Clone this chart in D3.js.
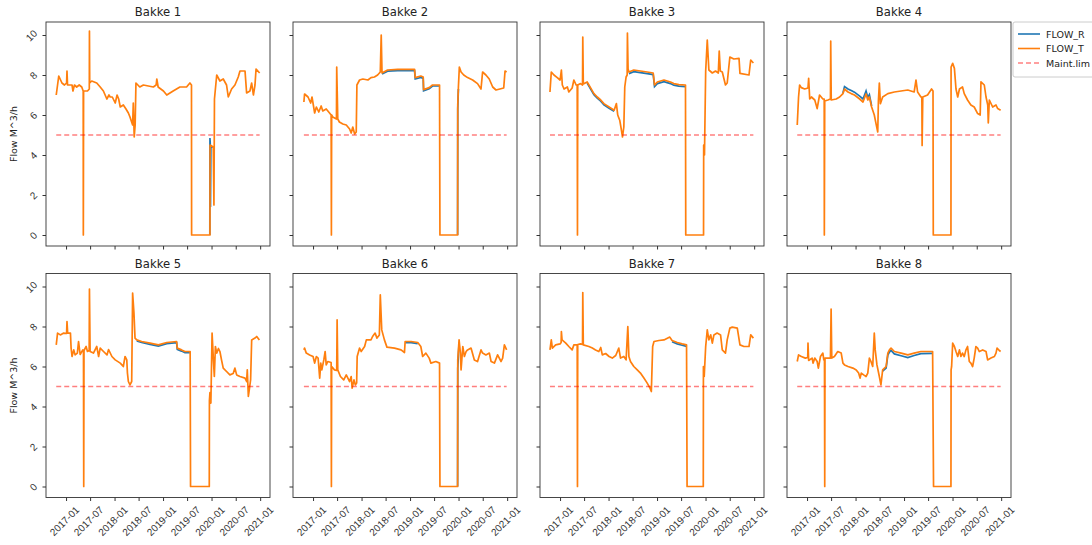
<!DOCTYPE html>
<html>
<head>
<meta charset="utf-8">
<script src="https://cdn.jsdelivr.net/npm/d3@7"></script>
<style>
    body { margin: 0; background: #fff; }
    svg { font-family: "DejaVu Sans", sans-serif; }
</style>
</head>
<body>
<svg></svg>
<script>
const BAKKE = ['Bakke 1', 'Bakke 2', 'Bakke 3', 'Bakke 4', 'Bakke 5', 'Bakke 6', 'Bakke 7', 'Bakke 8'];
const SERIES = ['FLOW_R', 'FLOW_T', 'Maint.lim'];
const X_TICKS = ['2017-01', '2017-07', '2018-01', '2018-07', '2019-01', '2019-07', '2020-01', '2020-07', '2021-01'];
const Y_TICKS = [0, 2, 4, 6, 8, 10];
const MAINT_LIM = 5;

// FLOW_T readings per bakke, [date, m^3/h]
const flowT1 = [["2016-10-19",7.0],["2016-11-07",7.95],["2016-12-01",7.6],["2016-12-20",7.5],["2017-01-05",7.6],["2017-01-08",8.2],["2017-01-12",7.5],["2017-02-15",7.5],["2017-02-22",7.2],["2017-03-05",7.5],["2017-03-22",7.4],["2017-04-10",7.5],["2017-04-29",7.4],["2017-05-10",7.2],["2017-05-11",0],["2017-05-13",7.2],["2017-06-11",7.2],["2017-06-25",7.3],["2017-06-26",10.2],["2017-06-28",7.6],["2017-07-13",7.7],["2017-08-20",7.6],["2017-09-15",7.4],["2017-10-09",7.2],["2017-11-04",6.8],["2017-11-20",7.0],["2017-11-29",6.9],["2017-12-15",6.9],["2018-01-06",6.6],["2018-01-20",7.0],["2018-02-01",6.8],["2018-02-13",6.4],["2018-03-08",6.5],["2018-03-28",6.3],["2018-04-15",6.1],["2018-04-27",5.9],["2018-05-17",5.5],["2018-05-22",6.6],["2018-05-29",4.9],["2018-06-05",5.5],["2018-06-11",7.6],["2018-07-10",7.4],["2018-08-06",7.5],["2018-10-20",7.4],["2018-11-10",7.5],["2018-11-15",7.8],["2018-11-25",7.4],["2019-01-04",7.2],["2019-01-29",7.0],["2019-03-18",7.2],["2019-05-08",7.4],["2019-06-27",7.4],["2019-07-22",7.6],["2019-08-03",7.5],["2019-08-04",0],["2019-12-20",0],["2019-12-21",4.5],["2020-01-14",4.4],["2020-01-19",1.5],["2020-01-23",6.8],["2020-02-09",8.0],["2020-03-04",7.7],["2020-03-29",7.8],["2020-04-23",7.5],["2020-05-06",6.9],["2020-05-31",7.3],["2020-06-25",7.5],["2020-07-20",7.9],["2020-08-02",8.2],["2020-09-09",8.2],["2020-09-21",7.1],["2020-10-16",7.2],["2020-10-29",7.6],["2020-11-11",7.0],["2020-11-23",7.5],["2020-12-01",8.3],["2020-12-28",8.1]];
const flowT2 = [["2016-10-24",6.65],["2016-10-29",7.05],["2016-11-24",6.9],["2016-12-14",6.6],["2016-12-24",6.9],["2017-01-08",6.3],["2017-01-13",6.1],["2017-01-26",6.4],["2017-02-13",6.15],["2017-03-03",6.45],["2017-03-15",6.2],["2017-04-10",6.3],["2017-05-05",6.1],["2017-05-17",6.0],["2017-05-19",0],["2017-05-21",6.0],["2017-05-29",5.9],["2017-06-26",5.8],["2017-06-28",8.4],["2017-07-06",5.8],["2017-07-18",5.65],["2017-08-13",5.55],["2017-09-08",5.5],["2017-10-03",5.3],["2017-10-15",5.1],["2017-10-27",5.4],["2017-11-10",5.05],["2017-11-22",5.15],["2017-11-27",7.5],["2017-12-17",7.75],["2018-01-11",7.8],["2018-02-18",7.75],["2018-03-13",7.87],["2018-04-08",7.9],["2018-05-02",8.0],["2018-05-22",8.15],["2018-05-29",10.0],["2018-06-04",8.1],["2018-07-16",8.25],["2018-09-30",8.28],["2019-02-04",8.28],["2019-02-09",7.87],["2019-03-23",7.95],["2019-04-10",7.9],["2019-04-13",7.27],["2019-05-25",7.37],["2019-06-19",7.5],["2019-08-11",7.5],["2019-08-14",0],["2019-12-25",0],["2019-12-26",6.5],["2019-12-31",7.4],["2020-01-07",8.4],["2020-01-20",8.15],["2020-02-09",8.0],["2020-03-09",7.87],["2020-04-16",7.75],["2020-05-23",7.57],["2020-06-18",7.3],["2020-06-30",8.15],["2020-07-25",8.0],["2020-08-19",7.8],["2020-09-14",7.4],["2020-10-09",7.25],["2020-12-06",7.35],["2020-12-16",8.2],["2020-12-28",8.15]];
const flowT3 = [["2016-10-17",7.15],["2016-10-27",8.15],["2016-11-16",8.0],["2016-12-11",7.87],["2017-01-01",7.75],["2017-01-11",8.25],["2017-01-18",7.5],["2017-01-31",7.3],["2017-02-25",7.4],["2017-03-08",7.15],["2017-04-02",7.35],["2017-04-15",7.75],["2017-05-02",7.5],["2017-05-10",7.5],["2017-05-12",0],["2017-05-14",7.5],["2017-06-04",7.57],["2017-06-19",7.5],["2017-06-21",9.9],["2017-06-25",7.55],["2017-07-24",7.65],["2017-08-18",7.37],["2017-09-13",7.07],["2017-10-08",6.9],["2017-11-03",6.75],["2017-11-27",6.57],["2018-01-05",6.4],["2018-02-12",6.24],["2018-03-01",6.57],["2018-03-11",6.0],["2018-03-26",5.74],["2018-04-06",5.32],["2018-04-16",4.9],["2018-04-26",5.4],["2018-05-03",7.4],["2018-05-13",7.9],["2018-05-21",8.0],["2018-05-23",10.1],["2018-05-28",8.3],["2018-06-03",8.15],["2018-07-10",8.25],["2018-08-29",8.2],["2018-10-19",8.15],["2018-12-03",8.1],["2018-12-13",7.5],["2019-01-03",7.65],["2019-02-22",7.75],["2019-04-12",7.65],["2019-05-07",7.57],["2019-06-14",7.52],["2019-08-03",7.5],["2019-08-05",0],["2019-12-17",0],["2019-12-18",4.5],["2019-12-24",4.0],["2020-01-02",8.2],["2020-01-14",9.75],["2020-01-26",8.25],["2020-02-21",8.1],["2020-03-16",8.2],["2020-04-06",8.1],["2020-04-13",9.2],["2020-04-21",8.2],["2020-05-06",8.15],["2020-05-30",7.5],["2020-06-12",7.6],["2020-07-02",8.9],["2020-08-01",8.8],["2020-09-09",8.83],["2020-09-16",8.08],["2020-11-23",8.0],["2020-12-06",8.75],["2020-12-26",8.6]];
const flowT4 = [["2016-10-19",5.5],["2016-10-29",6.9],["2016-11-06",7.5],["2016-11-19",7.37],["2016-12-14",7.3],["2017-01-08",7.35],["2017-01-13",7.83],["2017-01-21",6.8],["2017-02-03",6.9],["2017-02-28",6.75],["2017-03-18",6.32],["2017-04-05",7.0],["2017-04-30",6.8],["2017-05-10",6.8],["2017-05-11",0],["2017-05-14",6.7],["2017-06-07",6.75],["2017-06-26",6.8],["2017-06-28",9.7],["2017-07-02",6.75],["2017-08-08",6.8],["2017-09-03",6.9],["2017-09-28",7.07],["2017-10-10",7.3],["2017-11-05",7.15],["2017-11-29",7.07],["2017-12-24",7.0],["2018-02-01",6.8],["2018-02-26",6.65],["2018-03-21",7.05],["2018-04-03",6.75],["2018-04-15",6.9],["2018-05-02",6.4],["2018-05-22",6.0],["2018-06-04",5.57],["2018-06-17",5.15],["2018-06-22",6.7],["2018-06-29",7.6],["2018-07-07",6.57],["2018-07-24",6.9],["2018-09-01",7.07],["2018-10-20",7.15],["2019-01-29",7.25],["2019-03-18",7.15],["2019-04-01",7.75],["2019-04-13",7.15],["2019-05-08",6.9],["2019-05-15",6.9],["2019-05-17",4.48],["2019-05-22",6.9],["2019-06-27",7.0],["2019-07-27",7.3],["2019-08-07",7.2],["2019-08-09",0],["2019-12-20",0],["2019-12-21",8.4],["2020-01-02",8.58],["2020-01-15",8.33],["2020-01-27",7.3],["2020-02-09",6.9],["2020-02-22",7.3],["2020-03-16",7.4],["2020-03-29",7.07],["2020-04-23",6.75],["2020-05-18",6.5],["2020-06-12",6.4],["2020-07-08",6.07],["2020-07-27",6.0],["2020-08-02",7.66],["2020-08-27",7.5],["2020-09-09",6.9],["2020-09-22",6.5],["2020-09-26",5.6],["2020-10-04",6.75],["2020-10-29",6.4],["2020-11-23",6.5],["2020-12-06",6.32],["2020-12-28",6.24]];
const flowT5 = [["2016-10-19",7.08],["2016-10-29",7.67],["2016-11-19",7.58],["2016-12-14",7.67],["2017-01-05",7.65],["2017-01-08",8.25],["2017-01-13",7.67],["2017-02-03",7.67],["2017-02-08",6.92],["2017-02-15",6.5],["2017-02-28",6.83],["2017-03-10",6.58],["2017-03-27",6.67],["2017-04-05",7.25],["2017-04-17",6.6],["2017-05-07",6.83],["2017-05-12",6.8],["2017-05-14",0],["2017-05-16",6.8],["2017-06-01",7.0],["2017-06-11",6.75],["2017-06-24",6.8],["2017-06-26",9.87],["2017-07-01",6.75],["2017-07-26",6.67],["2017-08-20",7.0],["2017-09-03",6.5],["2017-09-15",6.92],["2017-10-10",6.75],["2017-11-05",6.58],["2017-11-17",6.85],["2017-12-12",6.5],["2018-01-06",6.33],["2018-02-13",6.17],["2018-03-08",6.0],["2018-03-21",6.5],["2018-04-03",6.33],["2018-04-08",5.67],["2018-04-15",5.25],["2018-04-27",5.08],["2018-05-10",5.25],["2018-05-17",9.67],["2018-05-27",8.67],["2018-06-04",7.42],["2018-06-17",7.33],["2018-07-24",7.25],["2018-09-25",7.17],["2018-11-27",7.08],["2019-01-29",7.2],["2019-04-13",7.25],["2019-04-18",6.92],["2019-05-20",6.83],["2019-06-15",6.75],["2019-07-24",6.75],["2019-07-27",0],["2019-12-15",0],["2019-12-16",4.3],["2019-12-20",4.7],["2019-12-27",4.17],["2020-01-05",7.67],["2020-01-15",6.33],["2020-01-22",5.5],["2020-01-30",7.0],["2020-02-09",6.67],["2020-02-22",6.9],["2020-03-04",6.75],["2020-03-16",6.33],["2020-03-29",5.92],["2020-04-23",5.75],["2020-05-18",5.58],["2020-06-12",5.65],["2020-06-25",5.92],["2020-07-08",5.58],["2020-08-02",5.5],["2020-09-09",5.42],["2020-09-21",5.25],["2020-09-26",5.83],["2020-10-04",4.5],["2020-10-11",4.83],["2020-10-21",5.33],["2020-10-29",7.33],["2020-11-23",7.42],["2020-12-06",7.5],["2020-12-26",7.33]];
const flowT6 = [["2016-10-24",6.83],["2016-10-29",6.92],["2016-11-11",6.67],["2016-12-06",6.58],["2017-01-01",6.5],["2017-01-13",6.17],["2017-01-26",6.5],["2017-02-08",6.42],["2017-02-20",5.42],["2017-02-28",6.17],["2017-03-08",5.83],["2017-03-23",6.33],["2017-04-02",6.75],["2017-04-10",6.08],["2017-04-22",6.25],["2017-05-17",6.2],["2017-05-19",0],["2017-05-21",6.0],["2017-06-11",5.83],["2017-06-28",5.8],["2017-07-01",8.33],["2017-07-06",5.83],["2017-07-26",5.5],["2017-08-20",5.33],["2017-09-08",5.58],["2017-09-20",5.42],["2017-10-03",5.25],["2017-10-15",5.5],["2017-10-22",4.92],["2017-11-05",5.33],["2017-11-15",5.08],["2017-11-25",5.17],["2017-11-29",6.5],["2017-12-17",6.92],["2017-12-29",6.75],["2018-01-24",7.0],["2018-02-06",7.33],["2018-03-13",7.33],["2018-03-25",7.5],["2018-04-13",7.67],["2018-04-27",7.42],["2018-05-15",7.58],["2018-05-22",9.58],["2018-06-02",7.83],["2018-06-22",7.33],["2018-07-11",6.97],["2018-09-06",6.92],["2018-10-25",6.83],["2018-11-20",6.7],["2018-11-25",7.25],["2019-01-09",7.25],["2019-02-28",7.2],["2019-03-23",7.0],["2019-04-06",6.5],["2019-04-30",6.67],["2019-05-25",6.42],["2019-06-07",6.17],["2019-07-14",6.25],["2019-08-11",6.17],["2019-08-14",0],["2019-12-25",0],["2019-12-26",6.33],["2020-01-05",7.33],["2020-01-15",6.67],["2020-01-20",5.83],["2020-02-02",7.0],["2020-02-14",6.5],["2020-02-27",6.75],["2020-03-09",6.83],["2020-04-04",6.92],["2020-04-29",6.33],["2020-05-23",6.25],["2020-06-18",6.83],["2020-06-30",6.67],["2020-07-25",6.58],["2020-08-20",6.67],["2020-09-02",6.25],["2020-09-27",6.17],["2020-10-21",6.58],["2020-11-16",6.25],["2020-11-28",6.42],["2020-12-11",7.08],["2020-12-28",6.83]];
const flowT7 = [["2016-10-17",6.83],["2016-10-27",7.33],["2016-11-04",6.92],["2016-11-29",7.08],["2017-01-01",7.13],["2017-01-09",7.2],["2017-01-11",7.75],["2017-01-16",7.33],["2017-02-13",7.17],["2017-03-08",7.0],["2017-04-02",6.83],["2017-04-15",7.08],["2017-05-10",7.08],["2017-05-12",0],["2017-05-14",7.1],["2017-06-04",7.13],["2017-06-19",7.1],["2017-06-21",9.7],["2017-06-25",7.08],["2017-08-06",7.0],["2017-09-01",6.92],["2017-09-25",6.83],["2017-10-20",6.75],["2017-11-03",6.95],["2017-11-15",6.58],["2017-12-10",6.65],["2018-01-05",6.5],["2018-01-29",6.42],["2018-02-24",6.55],["2018-03-19",6.92],["2018-04-01",6.42],["2018-04-26",6.5],["2018-05-13",6.33],["2018-05-26",8.0],["2018-06-03",6.5],["2018-06-15",6.25],["2018-07-10",6.0],["2018-08-05",5.83],["2018-08-29",5.67],["2018-09-24",5.42],["2018-10-19",5.17],["2018-11-09",4.92],["2018-11-19",4.75],["2018-11-29",7.0],["2018-12-09",7.25],["2019-01-15",7.3],["2019-02-22",7.33],["2019-04-07",7.47],["2019-04-24",7.3],["2019-06-02",7.2],["2019-07-09",7.13],["2019-08-11",7.08],["2019-08-15",0],["2019-12-15",0],["2019-12-16",6.0],["2019-12-22",5.5],["2020-01-02",7.0],["2020-01-14",7.83],["2020-01-26",7.33],["2020-02-09",7.58],["2020-02-21",7.17],["2020-03-04",7.58],["2020-03-28",7.67],["2020-04-23",7.58],["2020-05-06",6.83],["2020-05-30",6.67],["2020-06-12",7.33],["2020-07-02",7.92],["2020-07-20",7.97],["2020-08-27",7.92],["2020-09-16",7.08],["2020-10-16",7.0],["2020-11-23",7.0],["2020-12-06",7.58],["2020-12-26",7.42]];
const flowT8 = [["2016-10-19",6.25],["2016-10-29",6.58],["2016-11-19",6.5],["2016-12-19",6.42],["2017-01-06",6.45],["2017-01-08",7.17],["2017-01-13",6.3],["2017-02-08",6.42],["2017-02-15",6.17],["2017-02-28",6.42],["2017-03-18",6.25],["2017-03-27",5.92],["2017-04-12",6.5],["2017-04-30",6.67],["2017-05-07",6.33],["2017-05-12",6.4],["2017-05-14",0],["2017-05-16",6.42],["2017-06-26",6.42],["2017-07-01",8.87],["2017-07-06",6.42],["2017-07-26",6.5],["2017-08-20",6.75],["2017-09-15",6.67],["2017-09-28",6.17],["2017-10-10",6.08],["2017-11-05",6.0],["2017-12-12",5.92],["2018-01-06",5.83],["2018-01-24",5.67],["2018-02-04",5.42],["2018-02-13",5.67],["2018-03-03",5.58],["2018-03-21",5.5],["2018-04-03",5.67],["2018-04-15",6.42],["2018-04-27",6.25],["2018-05-10",6.0],["2018-05-22",7.67],["2018-05-29",6.83],["2018-06-11",6.08],["2018-06-29",5.5],["2018-07-11",5.08],["2018-07-24",5.83],["2018-08-19",6.0],["2018-09-01",6.67],["2018-09-13",6.83],["2018-09-25",6.92],["2018-10-20",6.75],["2018-12-10",6.67],["2019-01-29",6.58],["2019-03-18",6.67],["2019-05-08",6.75],["2019-08-04",6.75],["2019-08-11",0],["2019-12-20",0],["2019-12-21",5.83],["2019-12-25",6.0],["2020-01-02",7.17],["2020-01-15",7.0],["2020-01-27",6.75],["2020-02-09",6.5],["2020-02-22",6.83],["2020-03-04",6.5],["2020-03-16",6.67],["2020-03-29",6.5],["2020-04-11",6.83],["2020-04-23",7.0],["2020-05-06",6.25],["2020-05-18",6.17],["2020-05-31",6.0],["2020-06-12",6.42],["2020-06-25",7.0],["2020-07-08",6.92],["2020-07-20",6.75],["2020-08-15",6.83],["2020-09-09",6.75],["2020-09-21",6.33],["2020-10-16",6.42],["2020-11-11",6.5],["2020-11-23",6.67],["2020-12-01",6.92],["2020-12-18",6.8],["2020-12-28",6.75]];

// FLOW_R: only the stretches where it shows apart from FLOW_T (elsewhere it sits right under it)
const flowR1 = [[["2019-12-19",0],["2019-12-20",4.85],["2019-12-22",4.6],["2019-12-24",1.4],["2019-12-27",4.4],["2020-01-14",4.4]]];
const flowR2 = [[["2018-06-04",8.05],["2018-07-16",8.19],["2018-09-30",8.22],["2019-02-04",8.22],["2019-02-09",7.8],["2019-03-23",7.88],["2019-04-10",7.83],["2019-04-13",7.21],["2019-05-25",7.31],["2019-06-19",7.45],["2019-08-11",7.45]],
                [["2019-12-25",0],["2019-12-26",6.3],["2019-12-31",7.3]]];
const flowR3 = [[["2017-07-24",7.6],["2017-08-18",7.31],["2017-09-13",7.01],["2017-10-08",6.84],["2017-11-03",6.69],["2017-11-27",6.51],["2018-01-05",6.34],["2018-02-12",6.18]],
                [["2018-06-03",8.07],["2018-07-10",8.17],["2018-08-29",8.12],["2018-10-19",8.07],["2018-12-03",8.02],["2018-12-13",7.42],["2019-01-03",7.57],["2019-02-22",7.67],["2019-04-12",7.57],["2019-05-07",7.49],["2019-06-14",7.44],["2019-08-03",7.42]]];
const flowR4 = [[["2017-09-28",7.1],["2017-10-10",7.42],["2017-11-05",7.3],["2017-11-29",7.22],["2017-12-24",7.14],["2018-02-01",6.94],["2018-02-26",6.8],["2018-03-21",7.2],["2018-04-03",6.88],["2018-04-15",7.02],["2018-05-02",6.45]]];
const flowR5 = [[["2018-06-17",7.28],["2018-07-24",7.2],["2018-09-25",7.11],["2018-11-27",7.02],["2019-01-29",7.14],["2019-04-13",7.19],["2019-04-18",6.86],["2019-05-20",6.77],["2019-06-15",6.69],["2019-07-24",6.69]]];
const flowR6 = [[["2018-11-25",7.19],["2019-01-09",7.19],["2019-02-28",7.14]],
                [["2019-12-25",0],["2019-12-26",5.9],["2020-01-05",7.2]]];
const flowR7 = [[["2019-04-24",7.24],["2019-06-02",7.13],["2019-07-09",7.06],["2019-08-11",7.01]]];
const flowR8 = [[["2018-07-24",5.77],["2018-08-19",5.92],["2018-09-01",6.57],["2018-09-13",6.72],["2018-09-25",6.8],["2018-10-20",6.63],["2018-12-10",6.54],["2019-01-29",6.45],["2019-03-18",6.55],["2019-05-08",6.64],["2019-08-04",6.66]]];

const flowT = [flowT1, flowT2, flowT3, flowT4, flowT5, flowT6, flowT7, flowT8];
const flowR = [flowR1, flowR2, flowR3, flowR4, flowR5, flowR6, flowR7, flowR8];

/* ************** LAYOUT ********************* */
const CHART_WIDTH = 1092;
const CHART_HEIGHT = 545;
const COL_X = [46, 293, 540, 787];
const ROW_Y = [22, 273.5];
const PANEL_W = 224;
const PANEL_H = 224;
const COLORS = {FLOW_R: '#1f77b4', FLOW_T: '#ff7f0e', lim: 'red'};
const FONT = 10;

const parseDay = d3.timeParse('%Y-%m-%d');
const parseMonth = d3.timeParse('%Y-%m');

const svg = d3.select('svg')
    .attr('width', CHART_WIDTH)
    .attr('height', CHART_HEIGHT);

/* ************** SCALES ********************* */
const x = d3.scaleTime()
    .domain([parseDay('2016-08-03'), parseDay('2021-03-16')])
    .range([0, PANEL_W]);
const y = d3.scaleLinear().domain([-0.55, 10.65]).range([PANEL_H, 0]);

const line = d3.line()
    .x(d => x(parseDay(d[0])))
    .y(d => y(d[1]));

/* ************** PANELS ********************* */
BAKKE.forEach((name, i) => {
    const col = i % 4, row = Math.floor(i / 4);
    const g = svg.append('g').attr('transform', `translate(${COL_X[col]},${ROW_Y[row]})`);

    // y axis (labels only on first column)
    const yAxis = g.append('g').call(d3.axisLeft(y).tickValues(Y_TICKS).tickSize(3.5).tickSizeOuter(0));
    yAxis.select('.domain').remove();
    yAxis.selectAll('line').attr('stroke', '#333');
    yAxis.selectAll('text').each(function () {
        const t = d3.select(this);
        if (col > 0) { t.remove(); return; }
        t.attr('font-size', FONT).attr('fill', '#333').attr('font-family', null);
        const len = this.getComputedTextLength();
        const half = (len + FONT) * 0.707 / 2;
        t.attr('x', 0).attr('dy', null).attr('text-anchor', 'middle')
            .attr('dominant-baseline', 'central')
            .attr('transform', `translate(${-7 - half},0) rotate(-45)`);
    });

    // x axis (labels only on bottom row)
    const xAxis = g.append('g').attr('transform', `translate(0,${PANEL_H})`)
        .call(d3.axisBottom(x).tickValues(X_TICKS.map(parseMonth))
            .tickFormat(d3.timeFormat('%Y-%m')).tickSize(3.5).tickSizeOuter(0));
    xAxis.select('.domain').remove();
    xAxis.selectAll('line').attr('stroke', '#333');
    xAxis.selectAll('text').each(function () {
        const t = d3.select(this);
        if (row === 0) { t.remove(); return; }
        t.attr('font-size', FONT).attr('fill', '#333').attr('font-family', null);
        const len = this.getComputedTextLength();
        const half = (len + FONT) * 0.707 / 2;
        t.attr('y', 0).attr('dy', null).attr('text-anchor', 'middle')
            .attr('dominant-baseline', 'central')
            .attr('transform', `translate(-2,${7 + half}) rotate(-45)`);
    });

    // FLOW_R segments under FLOW_T
    flowR[i].forEach(seg => {
        g.append('path').datum(seg)
            .attr('d', line)
            .attr('fill', 'none')
            .attr('stroke', COLORS.FLOW_R)
            .attr('stroke-width', 1.7);
    });

    g.append('path').datum(flowT[i])
        .attr('d', line)
        .attr('fill', 'none')
        .attr('stroke', COLORS.FLOW_T)
        .attr('stroke-width', 1.7)
        .attr('stroke-linejoin', 'round');

    // maintenance limit over the span of readings
    const span = [flowT[i][0][0], flowT[i][flowT[i].length - 1][0]];
    g.append('path').datum(span.map(dd => [dd, MAINT_LIM]))
        .attr('d', line)
        .attr('stroke', COLORS.lim)
        .attr('stroke-opacity', 0.5)
        .attr('stroke-width', 1.4)
        .attr('stroke-dasharray', '5,3');

    // frame
    g.append('rect')
        .attr('width', PANEL_W).attr('height', PANEL_H)
        .attr('fill', 'none').attr('stroke', '#333').attr('stroke-width', 0.9);

    g.append('text')
        .attr('x', PANEL_W / 2).attr('y', -6)
        .attr('text-anchor', 'middle')
        .attr('font-size', 11.6)
        .attr('fill', '#222')
        .text(name);

    if (col === 0) {
        svg.append('text')
            .attr('transform', `translate(13,${ROW_Y[row] + PANEL_H / 2}) rotate(-90)`)
            .attr('text-anchor', 'middle')
            .attr('dominant-baseline', 'central')
            .attr('font-size', 9.5)
            .attr('fill', '#222')
            .text('Flow M^3/h');
    }
});

/* ************** LEGEND ********************* */
const legend = svg.append('g').attr('transform', 'translate(1013,22)');
legend.append('rect')
    .attr('width', 100).attr('height', 55).attr('rx', 2)
    .attr('fill', '#fff').attr('stroke', '#ccc');
SERIES.forEach((s, k) => {
    const ly = 12 + k * 14.5;
    legend.append('line')
        .attr('x1', 5).attr('x2', 27).attr('y1', ly).attr('y2', ly)
        .attr('stroke', k === 0 ? COLORS.FLOW_R : k === 1 ? COLORS.FLOW_T : COLORS.lim)
        .attr('stroke-opacity', k === 2 ? 0.5 : 1)
        .attr('stroke-width', 1.6)
        .attr('stroke-dasharray', k === 2 ? '5,3' : null);
    legend.append('text')
        .attr('x', 33).attr('y', ly)
        .attr('dominant-baseline', 'central')
        .attr('font-size', 9.5)
        .attr('fill', '#222')
        .text(s);
});
</script>
</body>
</html>
